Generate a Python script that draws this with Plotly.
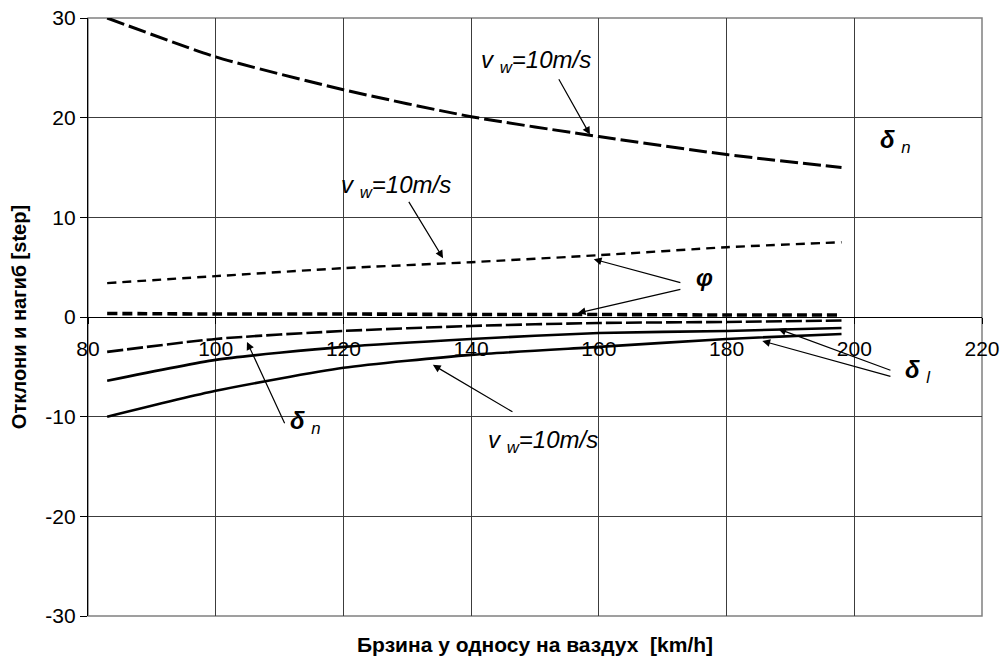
import plotly.graph_objects as go

# ---- data ----
speed = [83, 100, 120, 140, 160, 180, 198]
delta_n_wind = [30.0, 26.1, 22.8, 20.1, 18.1, 16.3, 15.0]
phi_wind = [3.4, 4.1, 4.9, 5.5, 6.2, 7.0, 7.5]
phi_calm = [0.35, 0.3, 0.3, 0.25, 0.25, 0.2, 0.2]
delta_n_calm = [-3.5, -2.2, -1.4, -0.9, -0.6, -0.5, -0.35]
delta_l_calm = [-6.4, -4.3, -3.0, -2.2, -1.6, -1.4, -1.1]
delta_l_wind = [-10.0, -7.4, -5.1, -3.8, -3.0, -2.2, -1.7]

x_ticks = [80, 100, 120, 140, 160, 180, 200, 220]
y_ticks = [-30, -20, -10, 0, 10, 20, 30]

FONT = "Liberation Sans, Arial, sans-serif"

fig = go.Figure()

series = [
    (delta_n_wind, "18px,5px", 3.0),
    (phi_wind, "9px,6px", 2.4),
    (phi_calm, "10px,5px", 3.6),
    (delta_n_calm, "16px,4px", 2.6),
    (delta_l_calm, "solid", 2.6),
    (delta_l_wind, "solid", 2.6),
]
for ys, dash, w in series:
    fig.add_trace(go.Scatter(
        x=speed, y=ys, mode="lines",
        line=dict(color="black", width=w, dash=dash, shape="spline", smoothing=0.6),
        showlegend=False, hoverinfo="skip",
    ))

vw = "<i>v</i> <sub><i>w</i></sub><i>=10m/s</i>"
texts = [
    (vw, 150.2, 25.6, 24),
    (vw, 128.2, 13.1, 24),
    (vw, 151.3, -12.5, 24),
    ("<b><i>δ</i></b> <sub><i>n</i></sub>", 206.5, 17.6, 24),
    ("<b><i>φ</i></b>", 176.6, 4.0, 24),
    ("<b><i>δ</i></b> <sub><i>n</i></sub>", 114.1, -10.6, 24),
    ("<b><i>δ</i></b> <sub><i>l</i></sub>", 210.0, -5.5, 24),
]
ann = []
for t, xx, yy, fs in texts:
    ann.append(dict(x=xx, y=yy, xref="x", yref="y", text=t, showarrow=False,
                    font=dict(family=FONT, size=fs, color="black")))

arrows = [
    (158.6, 18.3, 153.6, 24.0),
    (135.6, 5.9, 130.1, 11.7),
    (159.2, 5.8, 173.0, 3.4),
    (156.7, 0.4, 173.0, 2.8),
    (104.9, -2.5, 110.9, -10.8),
    (134.0, -4.8, 146.7, -9.6),
    (188.1, -1.2, 205.9, -5.4),
    (185.6, -2.4, 205.9, -6.0),
]
for hx, hy, tx, ty in arrows:
    ann.append(dict(x=hx, y=hy, ax=tx, ay=ty, xref="x", yref="y", axref="x", ayref="y",
                    text="", showarrow=True, arrowhead=2, arrowsize=1.3, arrowwidth=1.2,
                    arrowcolor="black", standoff=0, startstandoff=0))

# axis titles
ann.append(dict(x=0.5, y=-0.048, xref="paper", yref="paper", yanchor="middle",
                text="<b>Брзина у односу на ваздух  [km/h]</b>", showarrow=False,
                font=dict(family=FONT, size=21, color="black")))
ann.append(dict(x=-0.077, y=0.5, xref="paper", yref="paper", xanchor="center",
                text="<b>Отклони и нагиб [step]</b>", showarrow=False, textangle=-90,
                font=dict(family=FONT, size=20, color="black")))

fig.update_layout(
    width=1002, height=666,
    margin=dict(l=88, r=20, t=18, b=50, autoexpand=False),
    paper_bgcolor="white", plot_bgcolor="white",
    font=dict(family=FONT, size=21, color="black"),
    annotations=ann,
    shapes=[dict(type="rect", xref="paper", yref="paper", x0=0, y0=0, x1=1, y1=1,
                 line=dict(color="#808080", width=1.5), layer="below")],
    xaxis=dict(range=[80, 220], tickvals=x_ticks, ticktext=[str(v) for v in x_ticks],
               anchor="free", position=0.5, showline=True, linecolor="black", linewidth=1.2,
               ticks="outside", ticklen=6, tickcolor="black", automargin=False,
               showgrid=True, gridcolor="#3c3c3c", gridwidth=1, zeroline=False,
               ticklabelstandoff=7, layer="below traces",
               tickfont=dict(family=FONT, size=21, color="black")),
    yaxis=dict(range=[-30, 30], tickvals=y_ticks, ticktext=[str(v) for v in y_ticks],
               showline=True, linecolor="black", linewidth=1.2, automargin=False,
               ticks="outside", ticklen=7, tickcolor="black",
               showgrid=True, gridcolor="#3c3c3c", gridwidth=1, zeroline=False,
               tickfont=dict(family=FONT, size=21, color="black")),
)

fig.write_html("out.html")
